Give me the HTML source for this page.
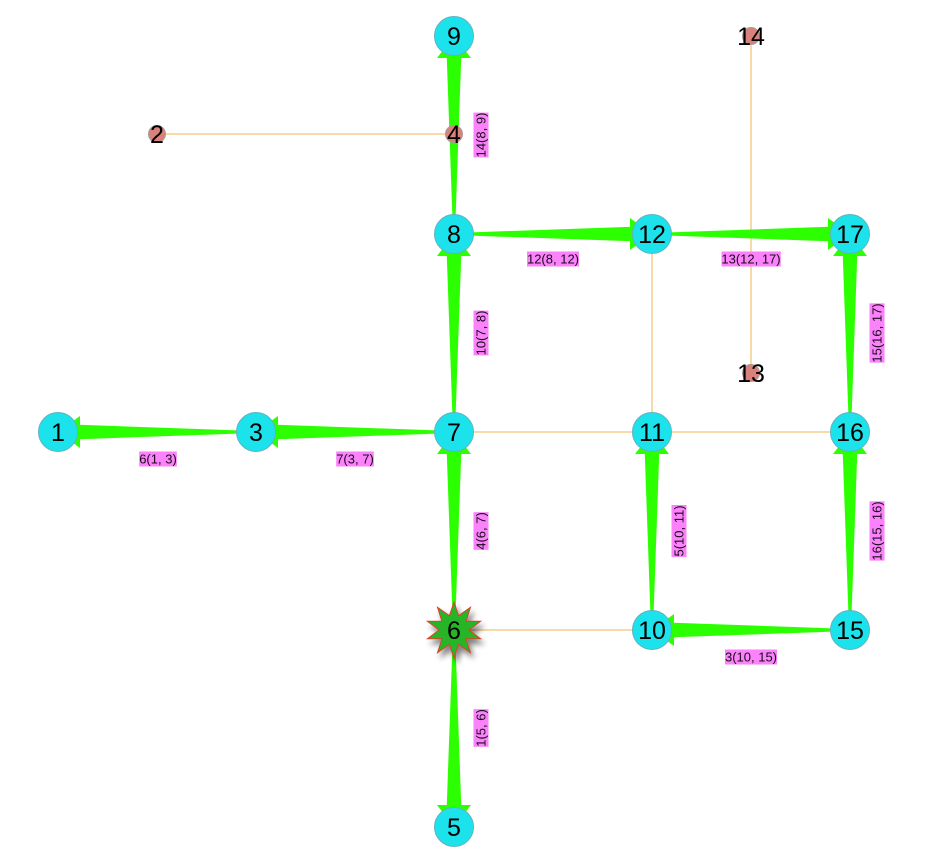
<!DOCTYPE html>
<html><head><meta charset="utf-8"><style>
html,body{margin:0;padding:0;background:#fff;}
svg{display:block;}
.lb{font-family:"Liberation Sans",sans-serif;font-size:13px;fill:#1a0a1a;text-anchor:middle;}
.nt{font-family:"Liberation Sans",sans-serif;font-size:25px;fill:#000;text-anchor:middle;}
</style></head><body>
<svg width="952" height="860" viewBox="0 0 952 860" xmlns="http://www.w3.org/2000/svg">
<defs>
<filter id="sh" x="-50%" y="-50%" width="200%" height="200%">
<feGaussianBlur in="SourceAlpha" stdDeviation="3"/>
<feOffset dx="3" dy="5" result="b"/>
<feComponentTransfer><feFuncA type="linear" slope="0.5"/></feComponentTransfer>
<feMerge><feMergeNode/><feMergeNode in="SourceGraphic"/></feMerge>
</filter>
</defs>
<!-- orange thin lines -->
<g stroke="#efb550" stroke-width="1" fill="none">
<line x1="157" y1="134" x2="454" y2="134"/>
<line x1="751" y1="36" x2="751" y2="373"/>
<line x1="652" y1="234" x2="652" y2="432"/>
<line x1="454" y1="432" x2="850" y2="432"/>
<line x1="454" y1="630" x2="652" y2="630"/>
</g>
<!-- green tapered edges -->
<g fill="#2cff00">
<polygon points="453,234 455,234 462,36 446,36"/><polygon points="437,58 471,58 454,36"/>
<polygon points="849,432 851,432 858,234 842,234"/><polygon points="833,256 867,256 850,234"/>
<polygon points="453,432 455,432 462,234 446,234"/><polygon points="437,256 471,256 454,234"/>
<polygon points="453,630 455,630 462,432 446,432"/><polygon points="437,454 471,454 454,432"/>
<polygon points="651,630 653,630 660,432 644,432"/><polygon points="635,454 669,454 652,432"/>
<polygon points="849,630 851,630 858,432 842,432"/><polygon points="833,454 867,454 850,432"/>
<polygon points="453,630 455,630 462,827 446,827"/><polygon points="437,805 471,805 454,827"/>
<polygon points="454,233 454,235 652,242 652,226"/><polygon points="630,218 630,250 652,234"/>
<polygon points="652,233 652,235 850,242 850,226"/><polygon points="828,218 828,250 850,234"/>
<polygon points="256,431 256,433 58,440 58,424"/><polygon points="80,416 80,448 58,432"/>
<polygon points="454,431 454,433 256,440 256,424"/><polygon points="278,416 278,448 256,432"/>
<polygon points="850,629 850,631 652,638 652,622"/><polygon points="674,614 674,646 652,630"/>
</g>
<!-- labels horizontal -->
<g>
<rect x="527" y="251.5" width="52" height="15" fill="#fb82fb"/><text class="lb" x="553" y="263.5">12(8, 12)</text>
<rect x="721.5" y="251.5" width="59.3" height="15" fill="#fb82fb"/><text class="lb" x="751" y="263.5">13(12, 17)</text>
<rect x="139.2" y="451.5" width="37.6" height="15" fill="#fb82fb"/><text class="lb" x="158" y="463.5">6(1, 3)</text>
<rect x="336.2" y="451.5" width="37.6" height="15" fill="#fb82fb"/><text class="lb" x="355" y="463.5">7(3, 7)</text>
<rect x="725" y="649.5" width="52" height="15" fill="#fb82fb"/><text class="lb" x="751" y="661.5">3(10, 15)</text>
</g>
<!-- labels vertical -->
<g transform="translate(481,135) rotate(-90)"><rect x="-22.4" y="-7.5" width="44.8" height="15" fill="#fb82fb"/><text class="lb" x="0" y="4.5">14(8, 9)</text></g>
<g transform="translate(481,333) rotate(-90)"><rect x="-22.4" y="-7.5" width="44.8" height="15" fill="#fb82fb"/><text class="lb" x="0" y="4.5">10(7, 8)</text></g>
<g transform="translate(877,333) rotate(-90)"><rect x="-29.65" y="-7.5" width="59.3" height="15" fill="#fb82fb"/><text class="lb" x="0" y="4.5">15(16, 17)</text></g>
<g transform="translate(481,531) rotate(-90)"><rect x="-18.8" y="-7.5" width="37.6" height="15" fill="#fb82fb"/><text class="lb" x="0" y="4.5">4(6, 7)</text></g>
<g transform="translate(679,531) rotate(-90)"><rect x="-26" y="-7.5" width="52" height="15" fill="#fb82fb"/><text class="lb" x="0" y="4.5">5(10, 11)</text></g>
<g transform="translate(877,531) rotate(-90)"><rect x="-29.65" y="-7.5" width="59.3" height="15" fill="#fb82fb"/><text class="lb" x="0" y="4.5">16(15, 16)</text></g>
<g transform="translate(481,728) rotate(-90)"><rect x="-18.8" y="-7.5" width="37.6" height="15" fill="#fb82fb"/><text class="lb" x="0" y="4.5">1(5, 6)</text></g>
<!-- small pink nodes -->
<g fill="#d9827b" stroke="#a99a9a" stroke-width="1">
<circle cx="157" cy="134" r="8.5"/>
<circle cx="454" cy="134" r="8.5"/>
<circle cx="751" cy="36" r="8.5"/>
<circle cx="751" cy="373" r="8.5"/>
</g>
<text class="nt" x="157" y="143">2</text>
<text class="nt" x="454" y="143">4</text>
<text class="nt" x="751" y="45">14</text>
<text class="nt" x="751" y="382">13</text>
<!-- cyan nodes -->
<g fill="#1ce2eb" stroke="#5fb3c2" stroke-width="1">
<circle cx="454" cy="36" r="19.5"/>
<circle cx="454" cy="234" r="19.5"/>
<circle cx="652" cy="234" r="19.5"/>
<circle cx="850" cy="234" r="19.5"/>
<circle cx="58" cy="432" r="19.5"/>
<circle cx="256" cy="432" r="19.5"/>
<circle cx="454" cy="432" r="19.5"/>
<circle cx="652" cy="432" r="19.5"/>
<circle cx="850" cy="432" r="19.5"/>
<circle cx="652" cy="630" r="19.5"/>
<circle cx="850" cy="630" r="19.5"/>
<circle cx="454" cy="827" r="19.5"/>
</g>
<!-- star node 6 -->
<polygon filter="url(#sh)" fill="#27b527" stroke="#e0402a" stroke-width="1" points="454,602 458.6,615.7 470.5,607.3 466.1,621.2 480.6,621.3 469,630 480.6,638.7 466.1,638.8 470.5,652.7 458.6,644.3 454,658 449.4,644.3 437.5,652.7 441.9,638.8 427.4,638.7 439,630 427.4,621.3 441.9,621.2 437.5,607.3 449.4,615.7"/>
<g>
<text class="nt" x="454" y="45">9</text>
<text class="nt" x="454" y="243">8</text>
<text class="nt" x="652" y="243">12</text>
<text class="nt" x="850" y="243">17</text>
<text class="nt" x="58" y="441">1</text>
<text class="nt" x="256" y="441">3</text>
<text class="nt" x="454" y="441">7</text>
<text class="nt" x="652" y="441">11</text>
<text class="nt" x="850" y="441">16</text>
<text class="nt" x="454" y="639">6</text>
<text class="nt" x="652" y="639">10</text>
<text class="nt" x="850" y="639">15</text>
<text class="nt" x="454" y="836">5</text>
</g>
</svg>
</body></html>
